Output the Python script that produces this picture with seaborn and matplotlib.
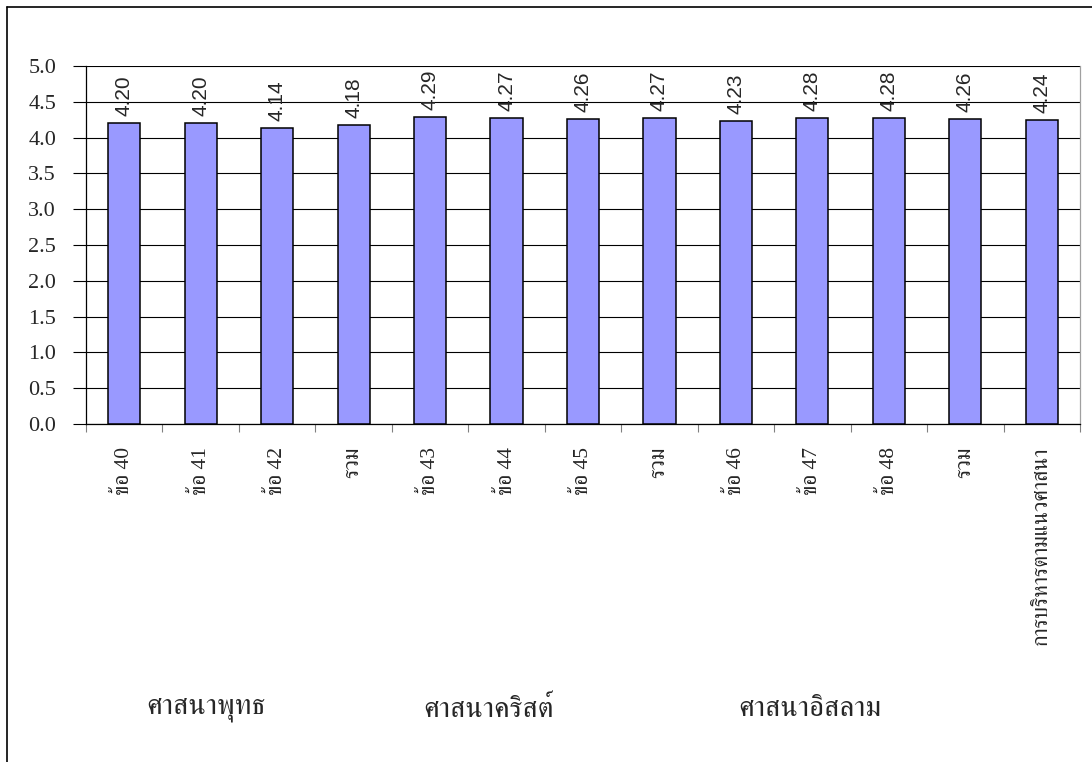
import matplotlib
matplotlib.use("Agg")
import matplotlib.pyplot as plt
import matplotlib.transforms as mtransforms
from matplotlib import font_manager as fm
from matplotlib.lines import Line2D
import pandas as pd
import seaborn as sns

# --- data ---
categories = ["ข้อ 40", "ข้อ 41", "ข้อ 42", "รวม",
              "ข้อ 43", "ข้อ 44", "ข้อ 45", "รวม",
              "ข้อ 46", "ข้อ 47", "ข้อ 48", "รวม",
              "การบริหารตามแนวศาสนา"]
scores = [4.20, 4.20, 4.14, 4.18, 4.29, 4.27, 4.26, 4.27, 4.23, 4.28, 4.28, 4.26, 4.24]
groups = ["ศาสนาพุทธ", "ศาสนาคริสต์", "ศาสนาอิสลาม"]
y_ticks = [0.0, 0.5, 1.0, 1.5, 2.0, 2.5, 3.0, 3.5, 4.0, 4.5, 5.0]


def family_of(filename, default):
    # look the font file up directly so the family name is the one matplotlib knows
    for path in fm.findSystemFonts():
        if path.split("/")[-1].lower() == filename.lower():
            fm.fontManager.addfont(path)
            return fm.FontProperties(fname=path).get_name()
    return default


def main():
    sns.set_style("white")
    times = family_of("LiberationSerif-Regular.ttf", "FreeSerif")
    arial = family_of("LiberationSans-Regular.ttf", "DejaVu Sans")
    thai = family_of("NotoSerifThai-Regular.ttf", "FreeSerif")
    serif = [times, "DejaVu Serif"]
    thai_mix = [times, thai, "FreeSerif"]
    plt.rcParams["font.family"] = serif

    # "รวม" repeats, so bars are keyed by position
    df = pd.DataFrame({"pos": list(range(len(categories))), "score": scores})

    fig = plt.figure(figsize=(10.92, 7.62), dpi=100)
    ax = fig.add_axes([86 / 1092, 1 - 424 / 762, 994 / 1092, 358 / 762])

    sns.barplot(data=df, x="pos", y="score", color="#9999FF", saturation=1,
                width=0.42, edgecolor="black", linewidth=1.1, ax=ax, zorder=3)

    ax.set_xlim(-0.5, len(categories) - 0.5)
    ax.set_ylim(0, 5)
    ax.set_yticks(y_ticks)
    ax.set_yticklabels([f"{t:.1f}" for t in y_ticks])
    ax.yaxis.grid(True, color="black", linewidth=0.8, zorder=0)
    ax.set_axisbelow(True)
    ax.tick_params(axis="y", which="major", direction="out", length=9.5,
                   width=0.8, color="black", pad=12, left=True, labelsize=16,
                   labelfontfamily=serif)

    ax.set_xticks(range(len(categories)))
    ax.set_xticklabels(categories, rotation=90, va="top", ha="center")
    ax.set_xticks([i - 0.5 for i in range(len(categories) + 1)], minor=True)
    ax.tick_params(axis="x", which="major", length=0, pad=16.5, bottom=True,
                   labelsize=15.5, labelfontfamily=thai_mix)
    ax.tick_params(axis="x", which="minor", direction="out", length=6,
                   width=0.8, color="#808080", bottom=True)

    ax.set_xlabel("")
    ax.set_ylabel("")
    for side in ["left", "bottom"]:
        ax.spines[side].set_color("black")
        ax.spines[side].set_linewidth(0.9)
    ax.spines["top"].set_visible(False)
    ax.spines["right"].set_color("#A0A0A0")
    ax.spines["right"].set_linewidth(0.9)

    # value labels above bars
    for i, v in enumerate(scores):
        ax.annotate(f"{v:.2f}", (i, v), xytext=(0, 5), textcoords="offset points",
                    rotation=90, ha="center", va="bottom", fontsize=15,
                    family=[arial, "DejaVu Sans"], zorder=4)

    # group names under the category labels
    group_x = [1.07, 4.76, 8.97]
    trans = mtransforms.blended_transform_factory(ax.transData, fig.transFigure)
    for gx, name in zip(group_x, groups):
        ax.text(gx, 1 - 709 / 762, name, transform=trans, ha="center", va="center",
                fontsize=21, family=thai_mix)

    # chart-area border (only left and top edges fall inside the picture)
    bx, by = 7 / 1092, 1 - 7 / 762
    fig.add_artist(Line2D([bx, bx], [0, by], color="black", linewidth=1.2,
                          transform=fig.transFigure))
    fig.add_artist(Line2D([bx, 1], [by, by], color="black", linewidth=1.2,
                          transform=fig.transFigure))

    fig.savefig("out.png", dpi=100)
    plt.close(fig)


if __name__ == "__main__":
    main()
